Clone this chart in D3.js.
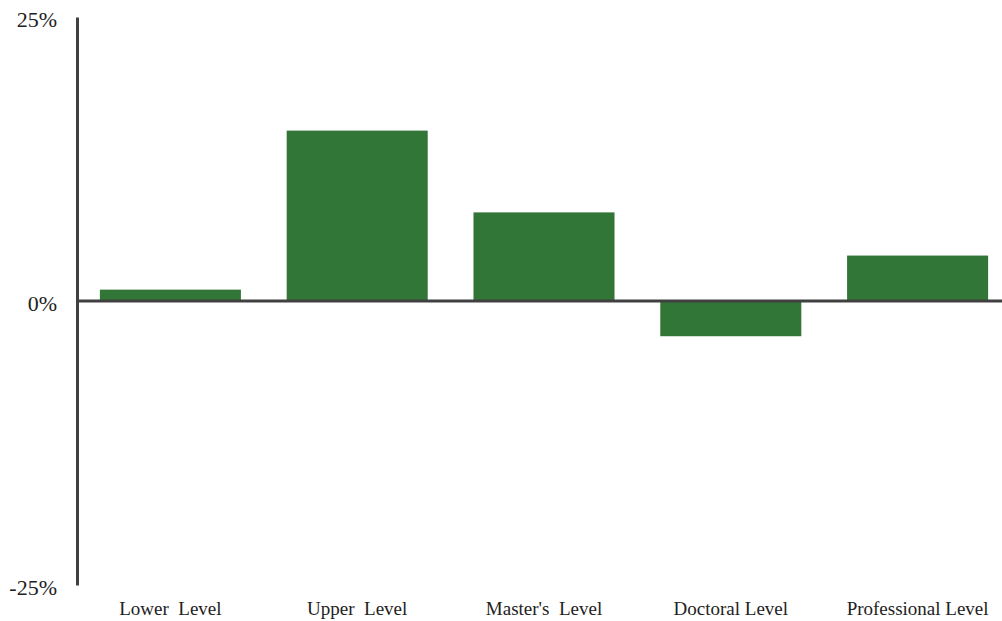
<!DOCTYPE html>
<html><head><meta charset="utf-8">
<script src="https://cdn.jsdelivr.net/npm/d3@7"></script>
<style>body{margin:0;background:#fff}svg{display:block}</style>
</head><body>
<svg id="c" width="1002" height="621"></svg>
<script>
const categories = ["Lower  Level", "Upper  Level", "Master's  Level", "Doctoral Level", "Professional Level"];
const values = [1.0, 15.0, 7.8, -3.1, 4.0];
const yTicks = [-25, 0, 25];

const svg = d3.select("#c");
const x = d3.scaleBand().domain(categories).range([77, 1011]).paddingInner(0.245).paddingOuter(0.1225);
const y = d3.scaleLinear().domain([-25, 25]).range([585, 17]);

svg.selectAll("rect.bar").data(values).join("rect")
  .attr("class", "bar")
  .attr("x", (d, i) => x(categories[i]))
  .attr("width", x.bandwidth())
  .attr("y", d => y(Math.max(0, d)))
  .attr("height", d => Math.abs(y(d) - y(0)))
  .attr("fill", "#317637");

// y axis
const yAxis = d3.axisLeft(y).tickValues(yTicks).tickSize(0).tickPadding(20).tickFormat(d => d + "%");
const gy = svg.append("g").attr("transform", "translate(77,0)").call(yAxis);
gy.select(".domain").attr("stroke", "#404040").attr("stroke-width", 3);
gy.selectAll("text").attr("font-family", "Liberation Serif, serif").attr("font-size", 22).attr("fill", "#222")
  .attr("dy", "0.42em");

// zero line
svg.append("line").attr("x1", 77).attr("x2", 1002).attr("y1", y(0)).attr("y2", y(0))
  .attr("stroke", "#404040").attr("stroke-width", 3);

// category labels
const xAxis = d3.axisBottom(x).tickSize(0).tickPadding(0);
const gx = svg.append("g").attr("transform", "translate(0,601)").call(xAxis);
gx.select(".domain").remove();
gx.selectAll("text").attr("font-family", "Liberation Serif, serif").attr("font-size", 19).attr("fill", "#222")
  .style("white-space", "pre");
</script>
</body></html>
